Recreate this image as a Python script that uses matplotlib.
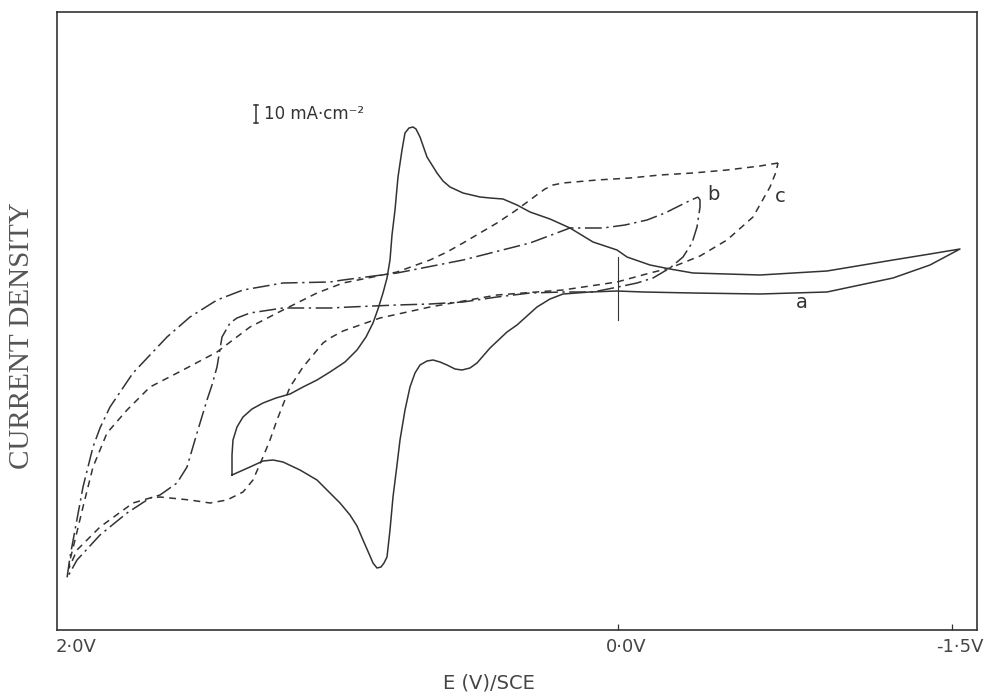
import matplotlib
matplotlib.use('Agg')
import matplotlib.pyplot as plt
import matplotlib.transforms as mtransforms

# horizontal position of each potential on the recorder chart, vertical = pen position
tick_pos = [68, 618, 952]
tick_labels = ['2·0V', '0·0V', '-1·5V']

# curve a (solid)
a_x = [232, 241, 250, 263, 273, 283, 300, 317, 330, 340, 350, 357, 363, 370, 373, 377, 381, 384, 387, 390,
       393, 397, 400, 405, 410, 415, 420, 427, 433, 440, 447, 455, 462, 470, 477, 490, 507, 517,
       537, 550, 563, 590, 617, 643, 693, 760, 827, 893, 930, 960,
       930, 893, 827, 760, 693, 670, 650, 627, 617, 593, 570, 550, 530, 517, 503, 490, 480, 463, 450,
       443, 437, 427, 420, 416, 413, 409, 405, 402, 398, 395, 392, 390, 387, 383, 378, 373, 366, 357,
       345, 330, 317, 303, 290, 276, 263, 252, 243, 237, 233, 232, 232]
a_y = [475, 471, 467, 461, 460, 462, 470, 480, 493, 503, 515, 526, 540, 556, 563, 568, 567, 563, 557, 530,
       497, 465, 440, 410, 387, 373, 365, 361, 360, 362, 365, 369, 370, 368, 363, 348, 332, 325,
       307, 299, 294, 292, 291, 292, 293, 294, 292, 278, 265, 249,
       254, 260, 271, 275, 273, 269, 265, 257, 250, 242, 228, 219, 212, 205, 199, 198, 197, 193, 187,
       181, 173, 157, 137, 129, 127, 128, 133, 150, 177, 210, 235, 260, 278, 293, 309, 323, 337, 350,
       362, 372, 380, 387, 394, 398, 403, 409, 417, 427, 440, 455, 475]

# curve b (dash-dot)
b_x = [698, 700, 700, 697, 692, 683, 670, 653, 637, 618, 593, 563, 530, 497, 463, 430, 397, 350,
       330, 283, 250, 237, 230, 222, 217, 212, 207, 197, 187, 177, 160, 150, 127, 100, 77, 67,
       70, 75, 83, 93, 100, 110, 133, 167, 190, 217, 243, 283, 330, 343, 397, 463, 530, 570, 587,
       603, 625, 647, 665, 687, 698]
b_y = [197, 200, 207, 227, 243, 257, 268, 278, 283, 287, 292, 292, 293, 297, 302, 304, 305, 307,
       308, 308, 313, 318, 323, 337, 367, 385, 400, 433, 467, 483, 495, 498, 513, 535, 560, 578,
       557, 530, 487, 447, 428, 407, 373, 337, 317, 300, 290, 283, 282, 280, 273, 260, 243, 228, 228,
       228, 225, 220, 213, 202, 197]

# curve c (dashed)
c_x = [778, 760, 727, 693, 660, 630, 597, 563, 553, 545, 538, 530, 515, 497, 480, 463, 447, 430, 397,
       363, 343, 317, 283, 250, 217, 183, 150, 127, 107, 93, 83, 75, 70, 69,
       77, 100, 133, 150, 160, 190, 210, 227, 243, 253, 263, 270, 277, 290, 303, 323, 330, 343,
       360, 380, 430, 497, 563, 590, 617, 650, 670, 700, 727, 753, 770, 776, 778]
c_y = [163, 166, 170, 173, 175, 178, 180, 183, 185, 189, 194, 200, 211, 223, 233, 243, 252, 260, 272,
       279, 283, 293, 310, 327, 352, 370, 387, 410, 433, 467, 507, 540, 560, 568,
       550, 527, 503, 498, 497, 500, 503, 500, 492, 480, 457, 440, 420, 387, 367, 343, 338, 331,
       325, 318, 307, 295, 290, 286, 282, 273, 268, 256, 240, 217, 187, 172, 163]

ink = '#333333'

fig = plt.figure(figsize=(9.9, 6.96), dpi=100)
ax = fig.add_axes([57/990, 66/696, 920/990, 618/696])

la, = ax.plot(a_x, a_y, color=ink, lw=1.1)
lb, = ax.plot(b_x, b_y, color=ink, lw=1.1)
lb.set_dashes([11, 3, 1.5, 3])
lc, = ax.plot(c_x, c_y, color=ink, lw=1.1)
lc.set_dashes([4.5, 3.5])

# 0.0 V marker
ax.plot([618, 618], [257, 320], color=ink, lw=0.8)

# scale bar
ax.plot([256, 256], [105, 123], color=ink, lw=1.1)
ax.plot([254, 258], [105, 105], color=ink, lw=1.1)
ax.plot([254, 258], [123, 123], color=ink, lw=1.1)
ax.text(264, 114, '10 mA·cm⁻²', fontsize=12, color=ink, va='center', ha='left')

# curve letters
ax.text(802, 303, 'a', fontsize=14, color=ink, ha='center', va='center')
ax.text(713, 195, 'b', fontsize=14, color=ink, ha='center', va='center')
ax.text(780, 197, 'c', fontsize=14, color=ink, ha='center', va='center')

ax.set_xlim(57, 977)
ax.set_ylim(630, 12)
ax.set_yticks([])
ax.set_xticks(tick_pos, tick_labels)
ax.tick_params(axis='x', direction='in', length=4.5, width=0.9, color=ink,
               labelsize=13, labelcolor='#444444', pad=6)
ax.xaxis.get_major_ticks()[0].tick1line.set_visible(False)
shift = mtransforms.ScaledTranslation(6/72, 0, fig.dpi_scale_trans)
for lab in ax.get_xticklabels():
    lab.set_transform(lab.get_transform() + shift)
for s in ax.spines.values():
    s.set_linewidth(1.2)
    s.set_color(ink)

fig.text(489/990, 1 - 683/696, 'E (V)/SCE', fontsize=14, color='#444444', ha='center', va='center')
fig.text(22/990, 1 - 336/696, 'CURRENT DENSITY', fontsize=21, color='#555555',
         family='Liberation Serif', rotation=90, ha='center', va='center')

fig.savefig('out.png', dpi=100)
